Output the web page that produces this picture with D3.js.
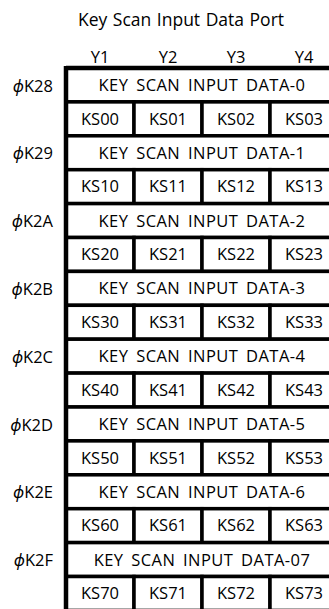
<!DOCTYPE html>
<html>
<head>
<meta charset="utf-8">
<script src="https://cdn.jsdelivr.net/npm/d3@7"></script>
<style>
  html, body { margin: 0; padding: 0; background: #fff; }
  svg { display: block; }
  text { font-family: "Open Sans", "Noto Sans", sans-serif; fill: #000; }
</style>
</head>
<body>
<script>
const title = "Key Scan Input Data Port";
const columns = ["Y1", "Y2", "Y3", "Y4"];
const rowLabels = ["K28", "K29", "K2A", "K2B", "K2C", "K2D", "K2E", "K2F"];
const dataLabels = [
  "KEY SCAN INPUT DATA-0", "KEY SCAN INPUT DATA-1", "KEY SCAN INPUT DATA-2",
  "KEY SCAN INPUT DATA-3", "KEY SCAN INPUT DATA-4", "KEY SCAN INPUT DATA-5",
  "KEY SCAN INPUT DATA-6", "KEY SCAN INPUT DATA-07"
];
const cells = [
  ["KS00", "KS01", "KS02", "KS03"],
  ["KS10", "KS11", "KS12", "KS13"],
  ["KS20", "KS21", "KS22", "KS23"],
  ["KS30", "KS31", "KS32", "KS33"],
  ["KS40", "KS41", "KS42", "KS43"],
  ["KS50", "KS51", "KS52", "KS53"],
  ["KS60", "KS61", "KS62", "KS63"],
  ["KS70", "KS71", "KS72", "KS73"]
];

const W = 329, H = 609;
const svg = d3.select("body").append("svg").attr("width", W).attr("height", H);

const tLeft = 66, tRight = 338, tTop = 68, rowH = 33.9;
const x = d3.scaleBand().domain(columns).range([tLeft, tRight]);
const rowKeys = [];
rowLabels.forEach((r, i) => { rowKeys.push("D" + i); rowKeys.push("K" + i); });
const y = d3.scaleBand().domain(rowKeys).range([tTop, tTop + rowKeys.length * rowH]);

// title
svg.append("text").attr("x", 181).attr("y", 26).attr("text-anchor", "middle")
  .attr("font-size", 17.5).attr("word-spacing", 1).text(title);

// column headers
svg.selectAll(".col").data(columns).join("text")
  .attr("x", d => x(d) + x.bandwidth() / 2).attr("y", 63)
  .attr("text-anchor", "middle").attr("font-size", 16.5).text(d => d);

const g = svg.append("g");
const lw = 3.5;

rowLabels.forEach((r, i) => {
  const yd = y("D" + i), yk = y("K" + i);
  g.append("rect").attr("x", tLeft).attr("y", yd).attr("width", tRight - tLeft).attr("height", y.bandwidth())
    .attr("fill", "#fff").attr("stroke", "#000").attr("stroke-width", lw);
  g.append("text").attr("x", (tLeft + tRight) / 2).attr("y", yd + y.bandwidth() / 2)
    .attr("dy", "0.37em").attr("text-anchor", "middle").attr("font-size", 16.5)
    .attr("letter-spacing", 0.45).attr("word-spacing", 3).text(dataLabels[i]);
  columns.forEach((c, j) => {
    g.append("rect").attr("x", x(c)).attr("y", yk).attr("width", x.bandwidth()).attr("height", y.bandwidth())
      .attr("fill", "#fff").attr("stroke", "#000").attr("stroke-width", lw);
    g.append("text").attr("x", x(c) + x.bandwidth() / 2).attr("y", yk + y.bandwidth() / 2)
      .attr("dy", "0.35em").attr("text-anchor", "middle").attr("font-size", 16.5)
      .text(cells[i][j]);
  });
  const t = svg.append("text").attr("x", 53).attr("y", yd + y.bandwidth() / 2)
    .attr("dy", "0.4em").attr("text-anchor", "end").attr("font-size", 16.5);
  t.append("tspan").attr("font-style", "italic").text("\u03D5");
  t.append("tspan").text(r);
});
g.append("line").attr("x1", tLeft).attr("x2", tLeft).attr("y1", tTop - 2).attr("y2", H)
  .attr("stroke", "#000").attr("stroke-width", 4.5);
g.append("line").attr("x1", tLeft).attr("x2", W).attr("y1", tTop).attr("y2", tTop)
  .attr("stroke", "#000").attr("stroke-width", 4.5);
</script>
</body>
</html>
